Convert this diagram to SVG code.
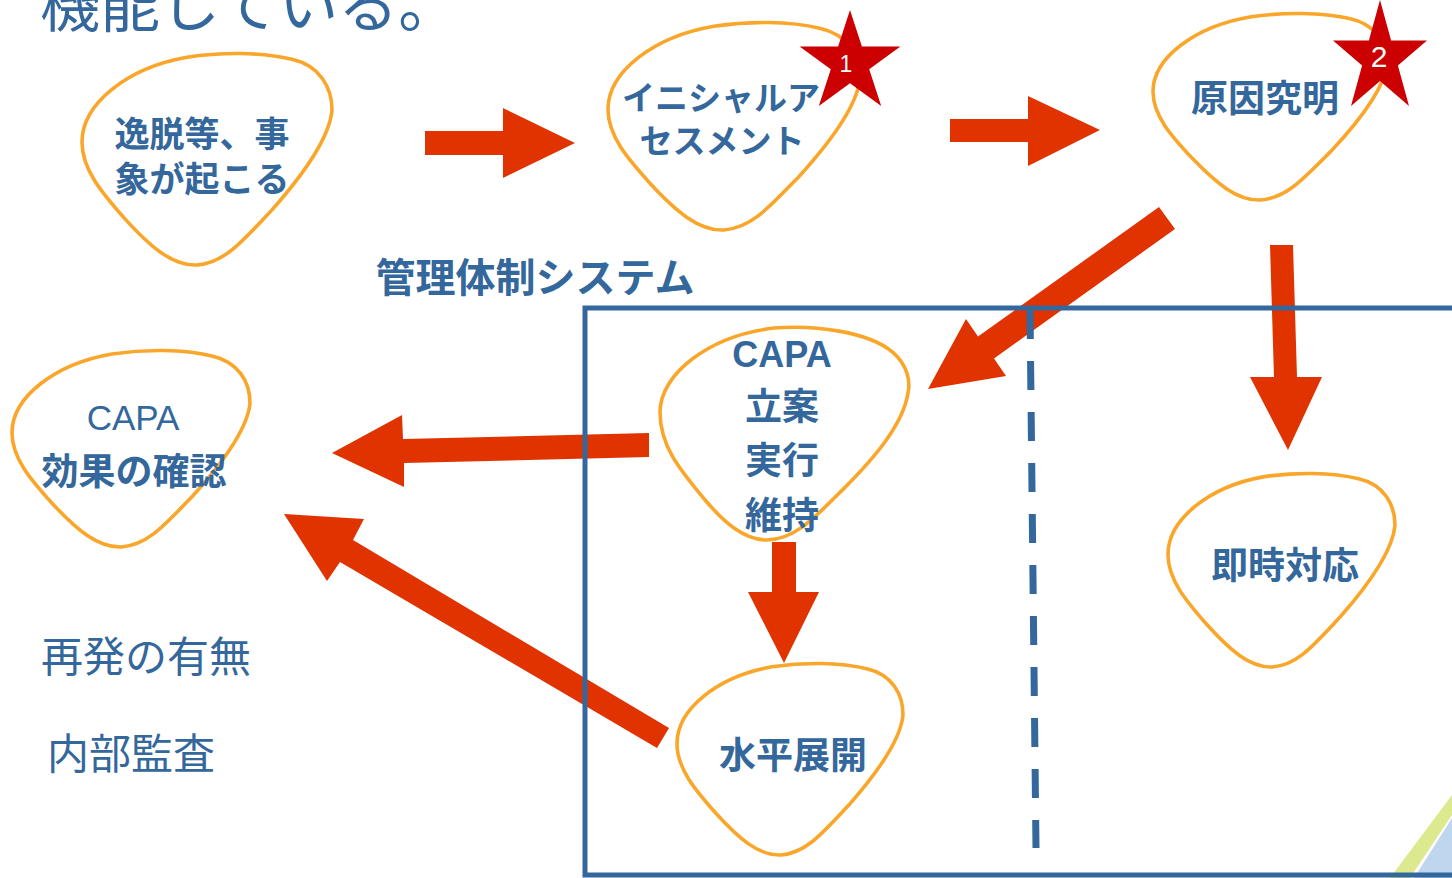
<svg xmlns="http://www.w3.org/2000/svg" width="1452" height="878" viewBox="0 0 1452 878">
<defs>
<style>
.blob{fill:#ffffff;stroke:#F9A62A;stroke-width:3.6}
.lbl{font-family:"Noto Sans CJK JP","Noto Sans",sans-serif;fill:#34679B;font-weight:bold;text-anchor:middle}
.lat{font-family:"Liberation Sans",Arial,sans-serif;fill:#34679B;text-anchor:middle}
.plain{font-family:"Noto Sans CJK JP","Noto Sans",sans-serif;fill:#34679B}
.arrow{fill:#E03300}
.star{fill:#CC0000}
.num{font-family:"Liberation Sans",Arial,sans-serif;fill:#ffffff;text-anchor:middle}
</style>
<path id="blobshape" vector-effect="non-scaling-stroke" d="M0,42 C0,24 18,7 42,2 C56,-0.5 72,-0.5 84,3 C95,6 100,16 100,27 C99,40 88,58 76,74 C64,89 57,99 46,100 C36,100.5 27,91 17,78 C8,66 0,55 0,42 Z"/>
<path id="blobshape2" vector-effect="non-scaling-stroke" d="M0,40 C0,22 20,4 46,0.5 C62,-1 84,2 94,12 C100,18 101,26 100,31 C98,46 86,62 74,76 C62,90 54,100 43,100 C34,100 26,92 18,81 C8,67 0,56 0,40 Z"/>
</defs>
<rect x="0" y="0" width="1452" height="878" fill="#ffffff"/>

<!-- corner decoration -->
<polygon points="1452,795 1452,815 1410,878 1390,878" fill="#DDE98F"/>
<polygon points="1452,818 1452,878 1414,878" fill="#BED6EE"/>

<!-- free texts -->
<text class="plain" x="40" y="27" font-size="60">機能している。</text>
<text class="plain" x="535" y="292" font-size="40" font-weight="bold" text-anchor="middle">管理体制システム</text>
<text class="plain" x="146" y="672" font-size="42" text-anchor="middle">再発の有無</text>
<text class="plain" x="131" y="769" font-size="42" text-anchor="middle">内部監査</text>

<g id="connectors">
<polygon class="arrow" points="425,131 503,131 503,108 575,143 503,178 503,155 425,155"/>
<polygon class="arrow" points="950,119 1028,119 1028,96 1100,130 1028,166 1028,142 950,142"/>
<polygon class="arrow" points="928,389 1006,376 994,358.5 1175,229 1159,207 978,336.5 966,319"/>
<polygon class="arrow" points="1270,245 1293,245 1297,377 1322,377 1288,450 1250,377 1274,377"/>
<polygon class="arrow" points="649,433 649,457 404,463 404,487 332,453 402,415 403,439"/>
<polygon class="arrow" points="284,514 364,519 353,540 669,728 657,748 340,562 327,581"/>
<polygon class="arrow" points="772,542 796,542 796,592 819,592 784,663 748,592 772,592"/>
</g>

<!-- management system frame -->
<g id="frame">
<rect x="585" y="308" width="880" height="567" fill="none" stroke="#34679B" stroke-width="5"/>
<line x1="1030" y1="310" x2="1036" y2="848" stroke="#34679B" stroke-width="7" stroke-dasharray="29,22"/>
</g>

<g id="node-event">
<use href="#blobshape" class="blob" transform="translate(82,53) scale(2.5,2.12)"/>
<text class="lbl" x="202" y="147" font-size="35">逸脱等、事</text>
<text class="lbl" x="202" y="192" font-size="35">象が起こる</text>
</g>

<g id="node-initial">
<use href="#blobshape" class="blob" transform="translate(608,22) scale(2.52,2.08)"/>
<text class="lbl" x="721" y="110" font-size="33">イニシャルア</text>
<text class="lbl" x="722" y="153" font-size="33">セスメント</text>
</g>

<g id="node-cause">
<use href="#blobshape" class="blob" transform="translate(1153,13) scale(2.34,1.87)"/>
<text class="lbl" x="1265" y="112" font-size="37">原因究明</text>
</g>

<g id="node-effect">
<use href="#blobshape" class="blob" transform="translate(12,350) scale(2.38,1.97)"/>
<text class="lat" x="133" y="430" font-size="35">CAPA</text>
<text class="lbl" x="134" y="485" font-size="37">効果の確認</text>
</g>

<g id="node-capa">
<use href="#blobshape2" class="blob" transform="translate(660,327) scale(2.48,2.13)"/>
<text class="lat" x="782" y="367" font-size="36" font-weight="bold">CAPA</text>
<text class="lbl" x="782" y="420" font-size="37">立案</text>
<text class="lbl" x="782" y="474" font-size="37">実行</text>
<text class="lbl" x="782" y="529" font-size="37">維持</text>
</g>

<g id="node-horizontal">
<use href="#blobshape" class="blob" transform="translate(677,663) scale(2.26,1.92)"/>
<text class="lbl" x="793" y="769" font-size="37">水平展開</text>
</g>

<g id="node-immediate">
<use href="#blobshape" class="blob" transform="translate(1168,473) scale(2.27,1.94)"/>
<text class="lbl" x="1285" y="579" font-size="37">即時対応</text>
</g>

<g id="star-1">
<polygon class="star" points="850,10 861.9,46.6 900.4,46.6 869.2,69.3 881.2,105.9 850,83.2 818.8,105.9 830.8,69.3 799.6,46.6 838.1,46.6"/>
<text class="num" x="846" y="72" font-size="23">1</text>
</g>

<g id="star-2">
<polygon class="star" points="1380,0 1391.1,40.5 1427,40.5 1397.9,65.5 1409,106 1380,81 1351,106 1362.1,65.5 1333,40.5 1368.9,40.5"/>
<text class="num" x="1379" y="67" font-size="30">2</text>
</g>
</svg>
